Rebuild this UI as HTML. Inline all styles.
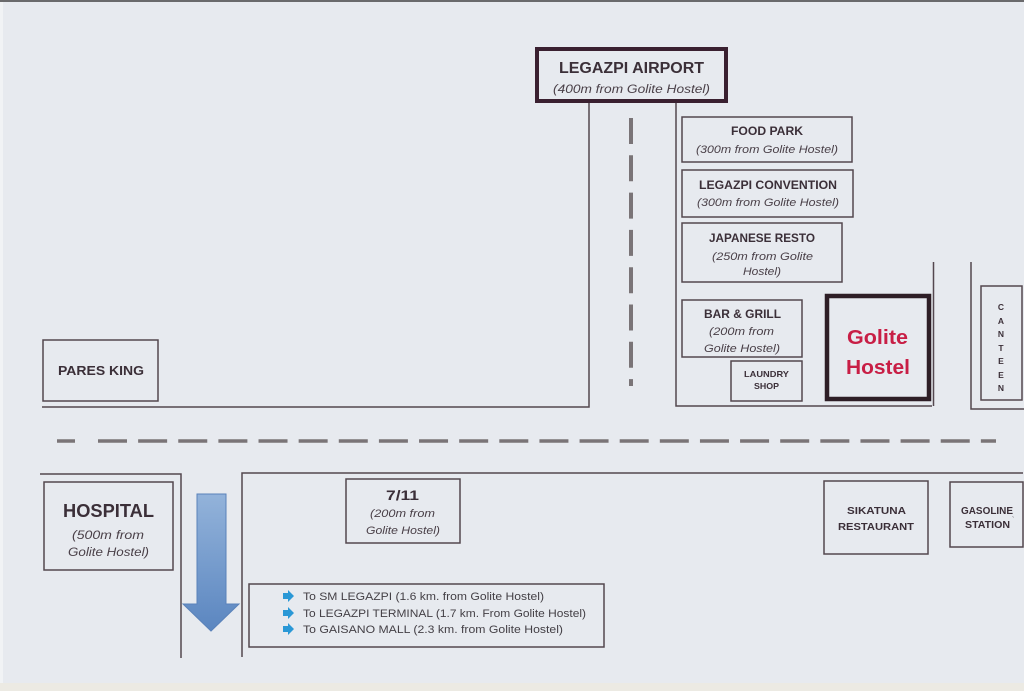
<!DOCTYPE html>
<html><head><meta charset="utf-8"><style>
html,body{margin:0;padding:0;background:#e7eaef;}
svg{display:block;}
text{font-family:"Liberation Sans",sans-serif;fill:#3b2f38;}
.b{font-weight:bold;}
.i{font-style:italic;fill:#4a4048;}
</style></head><body>
<svg width="1024" height="691" viewBox="0 0 1024 691" xmlns="http://www.w3.org/2000/svg">
<defs>
<linearGradient id="ag" x1="0" y1="0" x2="0" y2="1">
<stop offset="0" stop-color="#93b3da"/>
<stop offset="1" stop-color="#5b86c0"/>
</linearGradient>
</defs>
<rect x="0" y="0" width="1024" height="691" fill="#e7eaef"/>
<rect x="0" y="0" width="1024" height="2" fill="#6a6a6c"/>
<rect x="0" y="2" width="3" height="681" fill="#f1f3f5"/>
<rect x="0" y="683" width="1024" height="8" fill="#eceae3"/>

<g stroke="#54474f" stroke-width="1.5" fill="none">
<!-- top left road border -->
<polyline points="589,103 589,407 42,407"/>
<polyline points="676,103 676,406 932,406"/>
<line x1="933.5" y1="262" x2="933.5" y2="406"/>
<polyline points="971,262 971,409 1024,409"/>
<!-- bottom -->
<polyline points="40,474 181,474 181,658"/>
<polyline points="242,657 242,473 1023,473"/>
</g>

<!-- dashed roads -->
<g stroke="#7a7477" fill="none">
<line x1="631" y1="118" x2="631" y2="386" stroke-width="4" stroke-dasharray="26 11.3"/>
<line x1="57" y1="441" x2="75" y2="441" stroke-width="3.5"/>
<line x1="98" y1="441" x2="996" y2="441" stroke-width="3.5" stroke-dasharray="29 11.13"/>
</g>

<!-- Airport -->
<rect x="537" y="49" width="189" height="52" fill="none" stroke="#3a2030" stroke-width="4"/>
<text class="b" x="631.5" y="73" font-size="16" text-anchor="middle" textLength="145" lengthAdjust="spacingAndGlyphs">LEGAZPI AIRPORT</text>
<text class="i" x="631.5" y="93" font-size="12" text-anchor="middle" textLength="157" lengthAdjust="spacingAndGlyphs">(400m from Golite Hostel)</text>

<g stroke="#54474f" stroke-width="1.5" fill="none">
<rect x="682" y="117" width="170" height="45"/>
<rect x="682" y="170" width="171" height="47"/>
<rect x="682" y="223" width="160" height="59"/>
<rect x="682" y="300" width="120" height="57"/>
<rect x="731" y="361" width="71" height="40"/>
<rect x="981" y="286" width="41" height="114"/>
<rect x="43" y="340" width="115" height="61"/>
<rect x="44" y="482" width="129" height="88"/>
<rect x="346" y="479" width="114" height="64"/>
<rect x="249" y="584" width="355" height="63"/>
<rect x="824" y="481" width="104" height="73"/>
<rect x="950" y="482" width="73" height="65"/>
</g>

<text class="b" x="767" y="135" font-size="11.5" text-anchor="middle" textLength="72" lengthAdjust="spacingAndGlyphs">FOOD PARK</text>
<text class="i" x="767" y="153" font-size="11" text-anchor="middle" textLength="142" lengthAdjust="spacingAndGlyphs">(300m from Golite Hostel)</text>
<text class="b" x="768" y="189" font-size="11.5" text-anchor="middle" textLength="138" lengthAdjust="spacingAndGlyphs">LEGAZPI CONVENTION</text>
<text class="i" x="768" y="206" font-size="11" text-anchor="middle" textLength="142" lengthAdjust="spacingAndGlyphs">(300m from Golite Hostel)</text>
<text class="b" x="762" y="242" font-size="11.5" text-anchor="middle" textLength="106" lengthAdjust="spacingAndGlyphs">JAPANESE RESTO</text>
<text class="i" x="762.5" y="260" font-size="11" text-anchor="middle" textLength="101" lengthAdjust="spacingAndGlyphs">(250m from Golite</text>
<text class="i" x="762" y="275" font-size="11" text-anchor="middle" textLength="38" lengthAdjust="spacingAndGlyphs">Hostel)</text>
<text class="b" x="742.5" y="318" font-size="11.5" text-anchor="middle" textLength="77" lengthAdjust="spacingAndGlyphs">BAR &amp; GRILL</text>
<text class="i" x="741.5" y="335" font-size="11" text-anchor="middle" textLength="65" lengthAdjust="spacingAndGlyphs">(200m from</text>
<text class="i" x="742" y="352" font-size="11" text-anchor="middle" textLength="76" lengthAdjust="spacingAndGlyphs">Golite Hostel)</text>
<text class="b" x="766.5" y="377" font-size="8.5" text-anchor="middle" textLength="45" lengthAdjust="spacingAndGlyphs">LAUNDRY</text>
<text class="b" x="766.5" y="389" font-size="8.5" text-anchor="middle" textLength="25" lengthAdjust="spacingAndGlyphs">SHOP</text>

<!-- Golite Hostel -->
<rect x="827" y="296" width="102" height="103" fill="none" stroke="#2e1e26" stroke-width="4.5"/>
<text class="b" x="877.5" y="344" font-size="20" text-anchor="middle" style="fill:#c81e45" textLength="61" lengthAdjust="spacingAndGlyphs">Golite</text>
<text class="b" x="878" y="374" font-size="20" text-anchor="middle" style="fill:#c81e45" textLength="64" lengthAdjust="spacingAndGlyphs">Hostel</text>

<!-- Canteen -->
<g class="b" font-size="8.5" text-anchor="middle" font-weight="bold">
<text x="1001" y="310">C</text>
<text x="1001" y="324">A</text>
<text x="1001" y="337">N</text>
<text x="1001" y="351">T</text>
<text x="1001" y="364">E</text>
<text x="1001" y="378">E</text>
<text x="1001" y="391">N</text>
</g>

<text class="b" x="101" y="375" font-size="13" text-anchor="middle" textLength="86" lengthAdjust="spacingAndGlyphs">PARES KING</text>

<text class="b" x="108.5" y="517" font-size="18" text-anchor="middle" textLength="91" lengthAdjust="spacingAndGlyphs">HOSPITAL</text>
<text class="i" x="108" y="539" font-size="12" text-anchor="middle" textLength="72" lengthAdjust="spacingAndGlyphs">(500m from</text>
<text class="i" x="108.5" y="556" font-size="12" text-anchor="middle" textLength="81" lengthAdjust="spacingAndGlyphs">Golite Hostel)</text>

<text class="b" x="402.5" y="500" font-size="14" text-anchor="middle" textLength="33" lengthAdjust="spacingAndGlyphs">7/11</text>
<text class="i" x="402.5" y="517" font-size="11" text-anchor="middle" textLength="65" lengthAdjust="spacingAndGlyphs">(200m from</text>
<text class="i" x="403" y="534" font-size="11" text-anchor="middle" textLength="74" lengthAdjust="spacingAndGlyphs">Golite Hostel)</text>

<!-- blue arrow -->
<polygon points="197,494 226,494 226,604 239,604 211,631 183,604 197,604" fill="url(#ag)" stroke="#5a82ba" stroke-width="1"/>

<!-- directions -->
<g fill="#2a98d6">
<polygon points="283,593 288,593 288,590 294,596 288,602 288,599 283,599"/>
<polygon points="283,610 288,610 288,607 294,613 288,619 288,616 283,616"/>
<polygon points="283,626 288,626 288,623 294,629 288,635 288,632 283,632"/>
</g>
<g font-size="11" style="fill:#444046">
<text x="303" y="600" style="fill:#444046" textLength="241" lengthAdjust="spacingAndGlyphs">To SM LEGAZPI (1.6 km. from Golite Hostel)</text>
<text x="303" y="617" style="fill:#444046" textLength="283" lengthAdjust="spacingAndGlyphs">To LEGAZPI TERMINAL (1.7 km. From Golite Hostel)</text>
<text x="303" y="633" style="fill:#444046" textLength="260" lengthAdjust="spacingAndGlyphs">To GAISANO MALL (2.3 km. from Golite Hostel)</text>
</g>

<text class="b" x="876.5" y="514" font-size="10.5" text-anchor="middle" textLength="59" lengthAdjust="spacingAndGlyphs">SIKATUNA</text>
<text class="b" x="876" y="530" font-size="10.5" text-anchor="middle" textLength="76" lengthAdjust="spacingAndGlyphs">RESTAURANT</text>
<text class="b" x="987" y="514" font-size="10" text-anchor="middle" textLength="52" lengthAdjust="spacingAndGlyphs">GASOLINE</text>
<text class="b" x="987.5" y="528" font-size="10" text-anchor="middle" textLength="45" lengthAdjust="spacingAndGlyphs">STATION</text>
<text x="1012" y="522" font-size="7">`</text>
</svg>
</body></html>
